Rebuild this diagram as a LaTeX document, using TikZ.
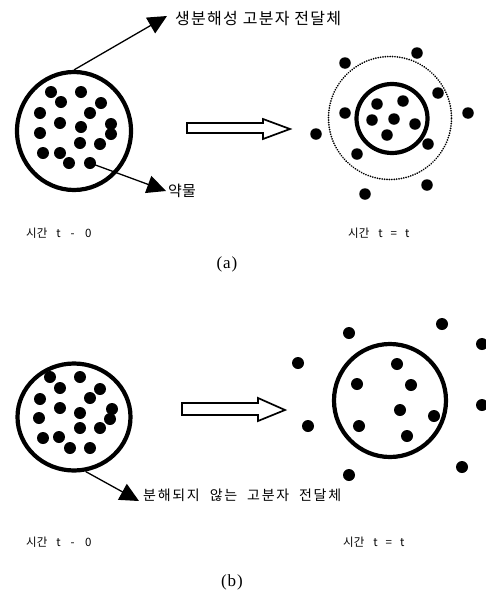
\documentclass[tikz,border=0pt]{standalone}
\usepackage{fontspec}
\newfontfamily\kr{Noto Sans CJK KR}
\newfontfamily\capfont{Liberation Serif}
\usetikzlibrary{arrows.meta,shapes.geometric}
\begin{document}
\begin{tikzpicture}[x=1pt,y=-1pt,
  carrier/.style={ellipse,draw,line width=4.2pt,inner sep=0pt},
  dot/.style={circle,fill=black,inner sep=0pt,minimum size=12pt},
  sdot/.style={circle,fill=black,inner sep=0pt,minimum size=11.5pt},
  pointer/.style={line width=1.3pt,-{Triangle[length=19pt,width=18pt]}},
  hollow/.style={draw,line width=1.7pt,fill=white,line join=miter},
  lab/.style={anchor=west,inner sep=0pt},
  timelab/.style={anchor=west,inner sep=0pt,font=\kr\fontsize{11.5}{13}\selectfont},
  caplab/.style={inner sep=0pt,font=\capfont\fontsize{17}{19}\selectfont}]
\useasboundingbox (0,0) rectangle (485,592);

% ---------------- (a) ----------------
\node[carrier,minimum width=114pt,minimum height=118pt] (carA) at (74,131) {};
\foreach \p [count=\i] in {(51,92),(81,92),(61,102),(101,103),(40,113),(90,113),
  (60,123),(111,124),(40,133),(81,127),(111,134),(80,143),(100,144),(43,153),
  (60,153),(69,163),(90,163)}
  \node[dot] (dA\i) at \p {};
\coordinate (tipA1) at (167,16);
\coordinate (tipA2) at (166,191);
\draw[pointer] (carA.north) -- (tipA1);
\draw[pointer] (dA17.center) -- (tipA2);
\node[lab,font=\kr\fontsize{16}{18}\selectfont\addfontfeatures{LetterSpace=8}] (labA1) at (175,19) {생분해성 고분자 전달체};
\node[lab,font=\kr\fontsize{15}{18}\selectfont] (labA2) at (168,191) {약물};

\draw[hollow] (187,123) -- (263,123) -- (263,119) -- (290,129) -- (263,139) -- (263,133) -- (187,133) -- cycle;

\node[carrier,minimum width=71pt,minimum height=69pt] (carA2) at (392,118.5) {};
\node[circle,draw,line width=1.9pt,dash pattern=on 0.01pt off 2.4pt,line cap=round,inner sep=0pt,minimum size=123pt] (haloA) at (390,118) {};
\foreach \p [count=\i] in {(377,104),(403,101),(372,120),(394,119),(415,124),(387,135)}
  \node[sdot] (eA\i) at \p {};
\foreach \p [count=\i] in {(345,63),(417,53),(438,93),(345,113),(468,113),(316,134),
  (428,144),(357,154),(427,185),(365,194)}
  \node[sdot] (oA\i) at \p {};

\node[timelab] (tA1) at (26,233) {시간\hspace{9pt}\addfontfeatures{LetterSpace=90}t-0};
\node[timelab] (tA2) at (348,233) {시간\hspace{9pt}\addfontfeatures{LetterSpace=70}t=t};
\node[caplab] (capA) at (227,264) {\addfontfeatures{LetterSpace=5}(a)};

% ---------------- (b) ----------------
\node[carrier,minimum width=113pt,minimum height=107pt] (carB) at (74,417) {};
\foreach \p [count=\i] in {(50,377),(80,377),(60,388),(100,389),(40,399),(90,398),
  (60,408),(112,409),(80,413),(39,418),(110,419),(80,428),(100,428),(43,438),
  (59,437),(70,448),(90,448)}
  \node[dot] (dB\i) at \p {};
\coordinate (tipB) at (139,501);
\draw[pointer] (carB.-78) -- (tipB);
\node[lab,font=\kr\fontsize{14}{16}\selectfont\addfontfeatures{LetterSpace=12}] (labB) at (143,495) {분해되지\hspace{10pt}않는\hspace{10pt}고분자\hspace{10pt}전달체};

\draw[hollow] (182,403) -- (258,403) -- (258,398) -- (285,410) -- (258,421) -- (258,415) -- (182,415) -- cycle;

\node[carrier,minimum width=112pt,minimum height=113pt] (carB2) at (390,400.5) {};
\foreach \p [count=\i] in {(397,364),(357,384),(411,385),(400,410),(434,416),(359,426),(407,436)}
  \node[dot] (eB\i) at \p {};
\foreach \p [count=\i] in {(349,333),(442,324),(482,344),(298,363),(482,405),(308,426),
  (462,467),(349,475)}
  \node[dot] (oB\i) at \p {};

\node[timelab] (tB1) at (26,542) {시간\hspace{9pt}\addfontfeatures{LetterSpace=90}t-0};
\node[timelab] (tB2) at (343,542) {시간\hspace{9pt}\addfontfeatures{LetterSpace=70}t=t};
\node[caplab] (capB) at (232,582) {\addfontfeatures{LetterSpace=5}(b)};
\end{tikzpicture}
\end{document}
